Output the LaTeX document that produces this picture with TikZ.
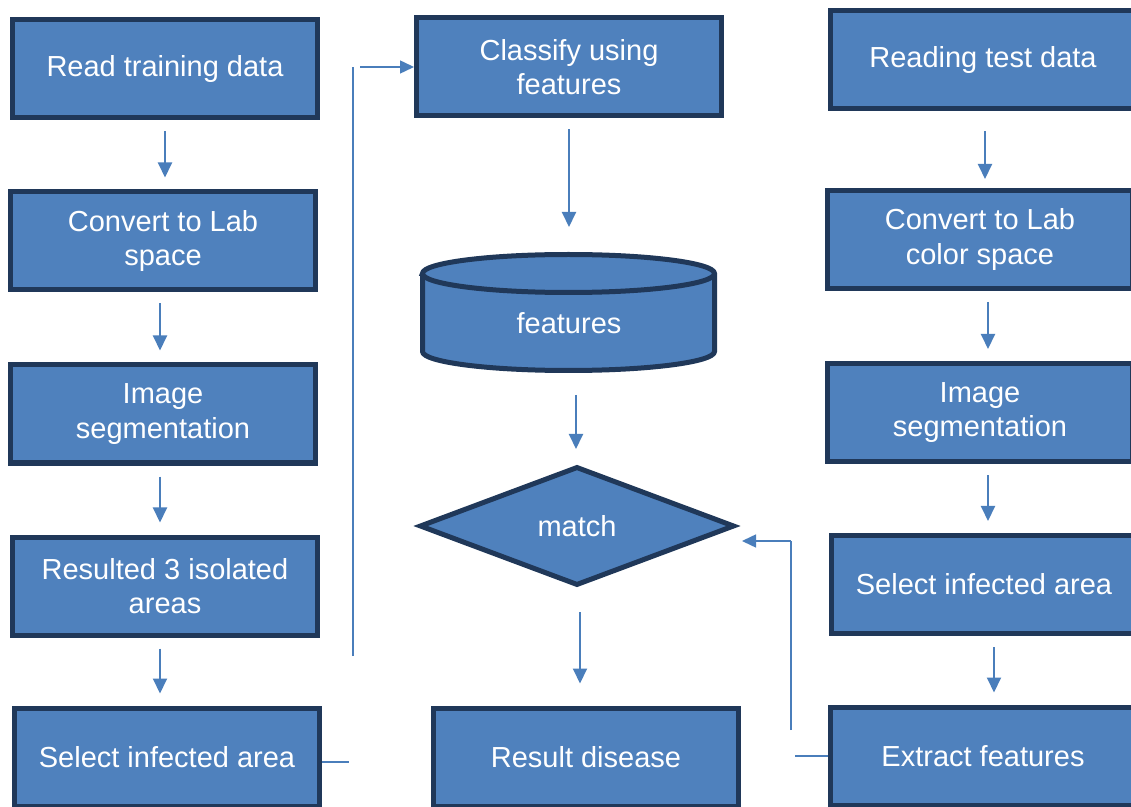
\documentclass[tikz,border=0pt]{standalone}
\usepackage{fontspec}
\setmainfont{Liberation Sans}
\usepackage{tikz}
\usepackage{xcolor}
\usetikzlibrary{arrows.meta,shapes.geometric}
\definecolor{boxblue}{HTML}{4F81BD}
\definecolor{boxedge}{HTML}{203859}
\definecolor{lineblue}{HTML}{4A7EBB}

\begin{document}
\begin{tikzpicture}[
  txt/.style={text=white,align=center,font=\fontsize{16.5}{19.5}\selectfont},
  box/.style={txt,draw=boxedge,fill=boxblue,line width=0.1cm,minimum width=6.1cm,minimum height=1.96cm},
  cyl/.style={draw=boxedge,fill=boxblue,line width=0.1cm},
  arr/.style={draw=lineblue,line width=0.04cm,-{Triangle[length=0.3cm,width=0.28cm]},shorten <=0.22cm,shorten >=0.24cm},
  link/.style={draw=lineblue,line width=0.03cm},
  tip/.style={-{Triangle[length=0.28cm,width=0.26cm]}}]
\useasboundingbox (0,0) rectangle (22.62,-16.14);
% training column
\node[box] (rdtrain) at (3.30,-1.38) {Read training data};
\node[box] (cvtrain) at (3.26,-4.82) {Convert to Lab\\space};
\node[box] (segtrain) at (3.26,-8.28) {Image\\segmentation};
\node[box] (isotrain) at (3.30,-11.72) {Resulted 3 isolated\\areas};
\node[box] (seltrain) at (3.34,-15.14) {Select infected area};
% middle column
\node[box] (classify) at (11.38,-1.34) {Classify using\\features};
\draw[cyl] (8.45,-5.47) -- (8.45,-7.03) arc[start angle=180,end angle=360,x radius=2.92cm,y radius=0.38cm]
  -- (14.29,-5.47) arc[start angle=0,end angle=180,x radius=2.92cm,y radius=0.38cm] -- cycle;
\draw[cyl,fill=none] (8.45,-5.47) arc[start angle=180,end angle=360,x radius=2.92cm,y radius=0.38cm];
\node[txt] (feat) at (11.38,-6.46) {features};
\coordinate (ftop) at (11.38,-5.04);
\coordinate (fbot) at (11.52,-7.46);
\node[box,diamond,aspect=2.6,minimum width=6.3cm,minimum height=2.38cm,inner sep=0pt] (match) at (11.54,-10.52) {match};
\node[box] (result) at (11.72,-15.14) {Result disease};
% test column
\node[box] (rdtest) at (19.66,-1.2) {Reading test data};
\node[box] (cvtest) at (19.60,-4.79) {Convert to Lab\\color space};
\node[box] (segtest) at (19.60,-8.25) {Image\\segmentation};
\node[box] (seltest) at (19.68,-11.69) {Select infected area};
\node[box] (extract) at (19.66,-15.12) {Extract features};
% arrows
\draw[arr] (rdtrain.south) -- (rdtrain.south |- cvtrain.north);
\draw[arr] ([xshift=-0.06cm]cvtrain.south) -- ([xshift=-0.06cm]cvtrain.south |- segtrain.north);
\draw[arr] ([xshift=-0.06cm]segtrain.south) -- ([xshift=-0.06cm]segtrain.south |- isotrain.north);
\draw[arr] ([xshift=-0.1cm]isotrain.south) -- ([xshift=-0.1cm]isotrain.south |- seltrain.north);
\draw[arr,shorten >=0.5cm] (classify.south) -- (ftop);
\draw[arr,shorten <=0.44cm,shorten >=0.3cm] (fbot) -- (fbot |- match.north);
\draw[arr,shorten <=0.48cm,shorten >=0.44cm] ([xshift=0.06cm]match.south) -- ([xshift=0.06cm]match.south |- result.north);
\draw[arr,shorten <=0.4cm,shorten >=0.18cm] ([xshift=0.04cm]rdtest.south) -- ([xshift=0.04cm]rdtest.south |- cvtest.north);
\draw[arr] ([xshift=0.16cm]cvtest.south) -- ([xshift=0.16cm]cvtest.south |- segtest.north);
\draw[arr] ([xshift=0.16cm]segtest.south) -- ([xshift=0.16cm]segtest.south |- seltest.north);
\draw[arr] ([xshift=0.2cm]seltest.south) -- ([xshift=0.2cm]seltest.south |- extract.north);
% side links
\coordinate (lbend) at (7.06,-1.34);
\coordinate (lfoot) at (7.06,-13.12);
\draw[link] ([yshift=-0.1cm]seltrain.east) -- ++(0.54,0);
\draw[link] (lfoot) -- (lbend);
\draw[link,tip] ([xshift=0.14cm]lbend) -- (classify.west);
\coordinate (rbend) at (15.82,-10.82);
\coordinate (rfoot) at (15.82,-14.6);
\coordinate (rtip) at (14.84,-10.82);
\draw[link] (extract.west) -- ++(-0.66,0);
\draw[link] (rfoot) -- (rbend);
\draw[link,tip] (rbend) -- (rtip);
\end{tikzpicture}
\end{document}
